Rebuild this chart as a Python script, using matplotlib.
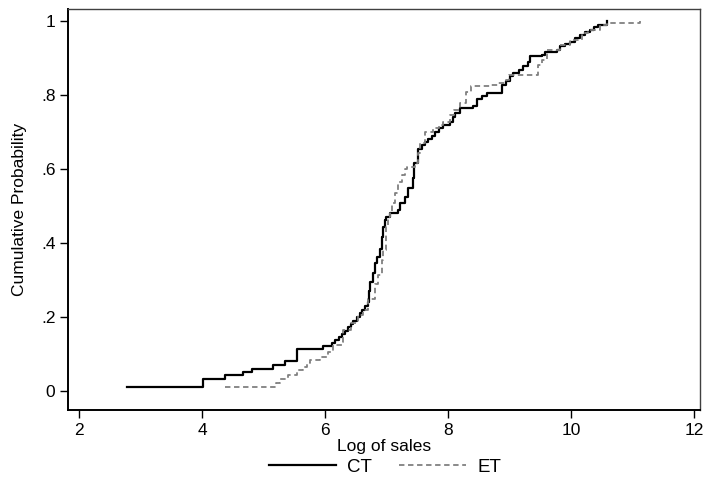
import matplotlib
matplotlib.use("Agg")
import matplotlib.pyplot as plt

# Step points of the empirical CDFs (x = log of sales, y = cumulative probability after the step)
ct_x = [2.78, 4.01, 4.37, 4.67, 4.81, 5.15, 5.35, 5.54, 5.96, 6.12, 6.16, 6.22, 6.28, 6.33,
        6.38, 6.43, 6.46, 6.52, 6.57, 6.60, 6.65, 6.70, 6.72, 6.74, 6.78, 6.81, 6.84, 6.89,
        6.92, 6.94, 6.98, 7.00, 7.06, 7.19, 7.22, 7.30, 7.35, 7.43, 7.45, 7.51, 7.57, 7.63,
        7.67, 7.74, 7.79, 7.86, 7.92, 8.03, 8.08, 8.11, 8.20, 8.41, 8.47, 8.55, 8.63, 8.88,
        8.95, 9.01, 9.06, 9.15, 9.22, 9.30, 9.33, 9.53, 9.58, 9.77, 9.82, 9.90, 9.98, 10.07,
        10.15, 10.23, 10.31, 10.38, 10.44, 10.58]
ct_y = [0.011, 0.032, 0.043, 0.052, 0.061, 0.070, 0.082, 0.113, 0.122, 0.130, 0.138, 0.147,
        0.155, 0.163, 0.172, 0.180, 0.190, 0.200, 0.210, 0.220, 0.230, 0.241, 0.270, 0.295,
        0.320, 0.345, 0.363, 0.385, 0.415, 0.444, 0.462, 0.471, 0.481, 0.489, 0.508, 0.525,
        0.548, 0.575, 0.615, 0.655, 0.665, 0.672, 0.680, 0.690, 0.700, 0.710, 0.719, 0.728,
        0.740, 0.750, 0.764, 0.770, 0.790, 0.797, 0.804, 0.827, 0.838, 0.850, 0.860, 0.868,
        0.877, 0.890, 0.904, 0.908, 0.917, 0.922, 0.931, 0.938, 0.944, 0.953, 0.962, 0.969,
        0.976, 0.983, 0.989, 1.000]

et_x = [4.37, 5.21, 5.27, 5.40, 5.54, 5.64, 5.70, 5.76, 5.92, 6.05, 6.13, 6.28, 6.29, 6.43,
        6.54, 6.62, 6.70, 6.81, 6.87, 6.93, 6.94, 6.99, 7.00, 7.02, 7.06, 7.09, 7.14, 7.19,
        7.25, 7.30, 7.33, 7.46, 7.51, 7.55, 7.62, 7.75, 7.85, 7.92, 8.03, 8.10, 8.20, 8.30,
        8.38, 8.68, 8.81, 8.94, 9.00, 9.46, 9.53, 9.61, 9.82, 9.98, 10.18, 10.28, 10.47,
        10.58, 11.12]
et_y = [0.012, 0.022, 0.032, 0.043, 0.057, 0.065, 0.075, 0.084, 0.093, 0.106, 0.124, 0.133,
        0.165, 0.183, 0.205, 0.219, 0.250, 0.290, 0.313, 0.354, 0.381, 0.413, 0.444, 0.471,
        0.485, 0.507, 0.534, 0.566, 0.584, 0.600, 0.606, 0.615, 0.642, 0.670, 0.700, 0.710,
        0.720, 0.728, 0.746, 0.760, 0.778, 0.809, 0.824, 0.827, 0.832, 0.841, 0.854, 0.881,
        0.895, 0.922, 0.935, 0.949, 0.966, 0.976, 0.989, 0.994, 1.000]

x_ticks = [2, 4, 6, 8, 10, 12]
y_ticks = [0, 0.2, 0.4, 0.6, 0.8, 1.0]
y_tick_labels = ["0", ".2", ".4", ".6", ".8", "1"]
series_names = ["CT", "ET"]

plt.rcParams['font.family'] = ['Liberation Sans', 'DejaVu Sans']
plt.rcParams['font.size'] = 12.5

fig = plt.figure(figsize=(7.04, 4.86), dpi=100)
ax = fig.add_axes([68/704, 1 - 410/486, (700 - 68)/704, (410 - 9)/486])

ax.step(ct_x, ct_y, where='post', color='black', lw=1.6, label=series_names[0])
ax.step(et_x, et_y, where='post', color='#808080', lw=1.3, linestyle=(0, (3, 2)),
        label=series_names[1])

ax.set_xlim(1.82, 12.1)
ax.set_ylim(-0.051, 1.032)
ax.set_xticks(x_ticks)
ax.set_xticklabels([str(t) for t in x_ticks])
ax.set_yticks(y_ticks)
ax.set_yticklabels(y_tick_labels)
ax.tick_params(direction='out', length=6, width=1, color='black', pad=3)
for s in ax.spines.values():
    s.set_linewidth(1.0)
    s.set_color('#404040')
ax.spines['left'].set_color('black')
ax.spines['bottom'].set_color('black')
ax.spines['left'].set_linewidth(1.4)
ax.spines['bottom'].set_linewidth(1.4)

ax.set_xlabel("Log of sales", labelpad=1)
ax.set_ylabel("Cumulative Probability", labelpad=10)

fig.legend(loc='center', bbox_to_anchor=(385/704, 1 - 467/486), ncol=2, frameon=False,
           fontsize=13.5, handlelength=3.6, columnspacing=1.4, handletextpad=0.6)

fig.savefig("out.png", dpi=100)
